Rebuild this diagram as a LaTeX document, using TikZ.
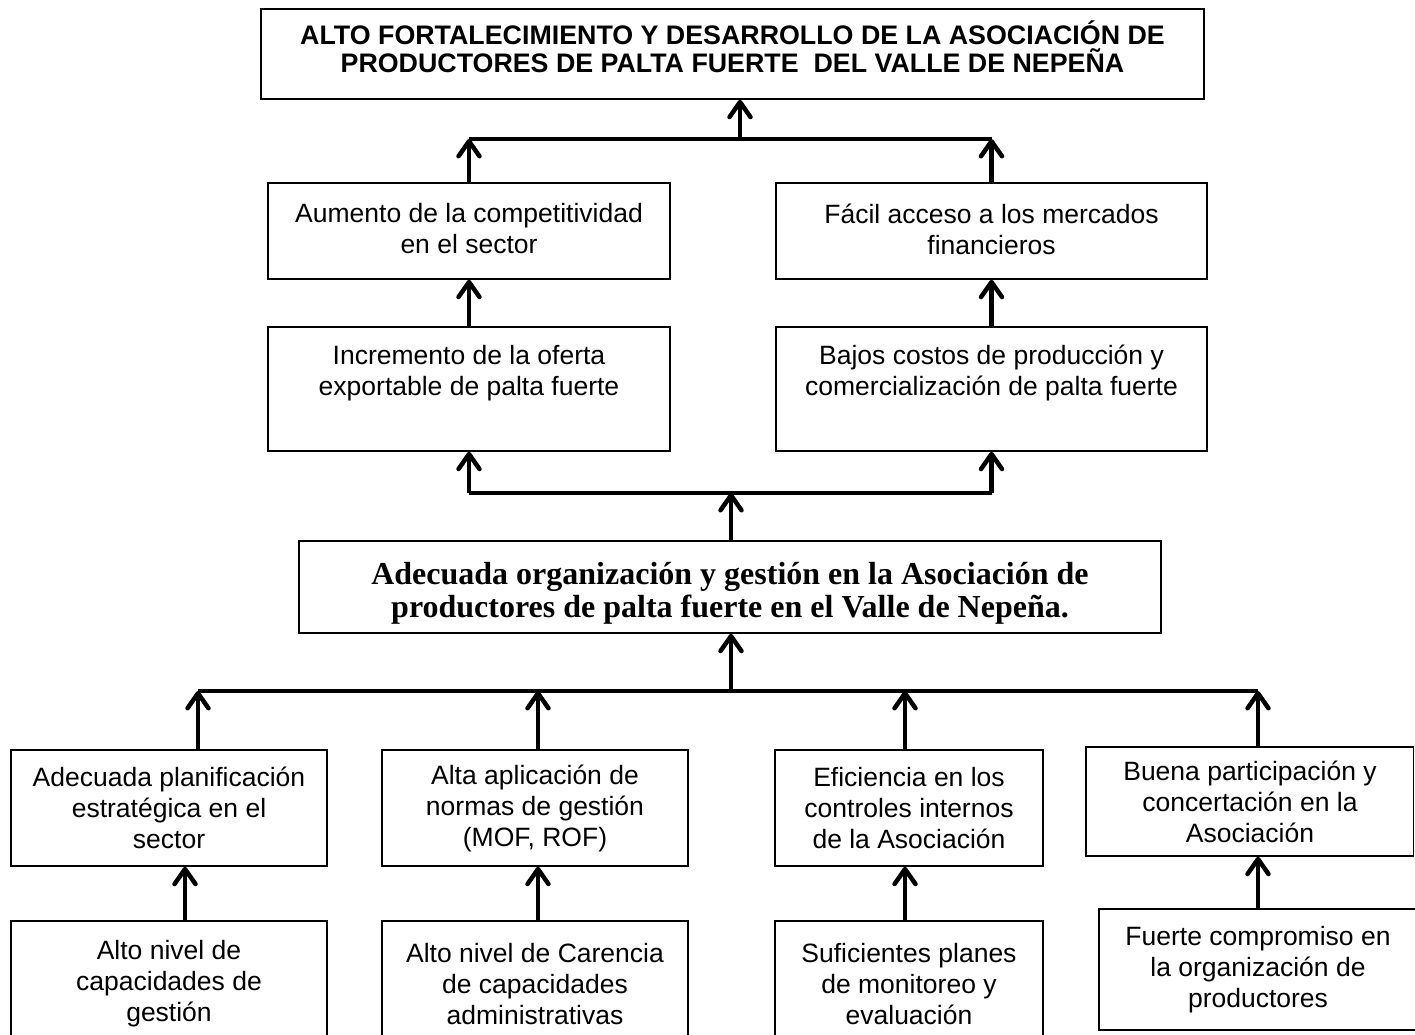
\documentclass[tikz,border=0pt]{standalone}
\usepackage{fontspec}
\setmainfont{Liberation Sans}
\newfontfamily\timesfont{Liberation Serif}
\usetikzlibrary{arrows.meta}
\begin{document}
\begin{tikzpicture}[x=1pt,y=-1pt,
  box/.style={draw, line width=1.6pt, inner sep=0pt},
  txt/.style={align=center, inner sep=0pt, font=\fontsize{26.5}{31}\selectfont},
  ttl/.style={align=center, inner sep=0pt, font=\fontsize{26.8}{28.5}\selectfont\bfseries},
  ctr/.style={align=center, inner sep=0pt, font=\fontsize{32}{33}\selectfont\timesfont\bfseries},
  bar/.style={line width=4.5pt},
  conn/.style={line width=4.5pt, -{Straight Barb[length=15pt,width=21pt,round]}}]
\useasboundingbox (0,0) rectangle (1415,1034);
\clip (0,0) rectangle (1415,1034);
\fill[white] (0,0) rectangle (1415,1034);

% boxes
\node[box, minimum width=943pt, minimum height=90pt] (title) at (732.5,54) {};
\node[box, minimum width=402pt, minimum height=96pt] (aum) at (469,231) {};
\node[box, minimum width=431pt, minimum height=96pt] (fac) at (991.5,231) {};
\node[box, minimum width=402pt, minimum height=124pt] (inc) at (469,389) {};
\node[box, minimum width=431pt, minimum height=124pt] (baj) at (991.5,389) {};
\node[box, minimum width=862pt, minimum height=92pt] (cen) at (730,587) {};
\node[box, minimum width=316pt, minimum height=116pt] (b1) at (169,808) {};
\node[box, minimum width=306pt, minimum height=116pt] (b2) at (535,808) {};
\node[box, minimum width=268pt, minimum height=116pt] (b3) at (909,808) {};
\node[box, minimum width=327.5pt, minimum height=109pt] (b4) at (1249.75,801.5) {};
\node[box, minimum width=316pt, minimum height=124pt] (b5) at (169,983) {};
\node[box, minimum width=306pt, minimum height=124pt] (b6) at (535,983) {};
\node[box, minimum width=268pt, minimum height=124pt] (b7) at (909,983) {};
\node[box, minimum width=321pt, minimum height=121pt] (b8) at (1259.5,969.5) {};

% texts
\node[ttl] (titleT) at (732.5,47) {ALTO FORTALECIMIENTO Y DESARROLLO DE LA ASOCIACIÓN DE\\PRODUCTORES DE PALTA FUERTE\ \ DEL VALLE DE NEPEÑA};
\node[txt] (aumT) at (469,229) {Aumento de la competitividad\\en el sector};
\node[txt] (facT) at (991.5,229) {Fácil acceso a los mercados\\financieros};
\node[txt] (incT) at (469,373) {Incremento de la oferta\\exportable de palta fuerte};
\node[txt] (bajT) at (991.5,373) {Bajos costos de producción y\\comercialización de palta fuerte};
\node[ctr] (cenT) at (730,593) {Adecuada organización y gestión en la Asociación de\\productores de palta fuerte en el Valle de Nepeña.};
\node[txt] (b1T) at (169,808) {Adecuada planificación\\estratégica en el\\sector};
\node[txt] (b2T) at (535,808) {Alta aplicación de\\normas de gestión\\(MOF, ROF)};
\node[txt] (b3T) at (909,808) {Eficiencia en los\\controles internos\\de la Asociación};
\node[txt] (b4T) at (1250,801.5) {Buena participación y\\concertación en la\\Asociación};
\node[txt] (b5T) at (169,984) {Alto nivel de\\capacidades de\\gestión};
\node[txt] (b6T) at (535,984) {Alto nivel de Carencia\\de capacidades\\administrativas};
\node[txt] (b7T) at (909,984) {Suficientes planes\\de monitoreo y\\evaluación};
\node[txt] (b8T) at (1258,969.5) {Fuerte compromiso en\\la organización de\\productores};

% top level connectors
\coordinate (tL) at (469,139);
\coordinate (tR) at (991.5,139);
\coordinate (tC) at (740,139);
\draw[bar] (tL) -- (tR);
\draw[conn] (aum.north) -- (tL);
\draw[conn] (fac.north) -- (tR);
\draw[conn] (tC) -- (title.south -| tC);
\draw[conn] (inc.north) -- (aum.south);
\draw[conn] (baj.north) -- (fac.south);

% middle connectors
\coordinate (mL) at (469,493);
\coordinate (mR) at (991.5,493);
\coordinate (mC) at (731,493);
\draw[bar] (mL) -- (mR);
\draw[conn] (mL) -- (inc.south);
\draw[conn] (mR) -- (baj.south);
\draw[conn] (cen.north -| mC) -- (mC);

% lower connectors
\coordinate (bA) at (198,691);
\coordinate (bB) at (538,691);
\coordinate (bC) at (731,691);
\coordinate (bD) at (905,691);
\coordinate (bE) at (1258,691);
\coordinate (kA) at (185,900);
\draw[bar] (bA) -- (bE);
\draw[conn] (bC) -- (cen.south -| bC);
\draw[conn] (b1.north -| bA) -- (bA);
\draw[conn] (b2.north -| bB) -- (bB);
\draw[conn] (b3.north -| bD) -- (bD);
\draw[conn] (b4.north -| bE) -- (bE);
\draw[conn] (b5.north -| kA) -- (b1.south -| kA);
\draw[conn] (b6.north -| bB) -- (b2.south -| bB);
\draw[conn] (b7.north -| bD) -- (b3.south -| bD);
\draw[conn] (b8.north -| bE) -- (b4.south -| bE);
\end{tikzpicture}
\end{document}
